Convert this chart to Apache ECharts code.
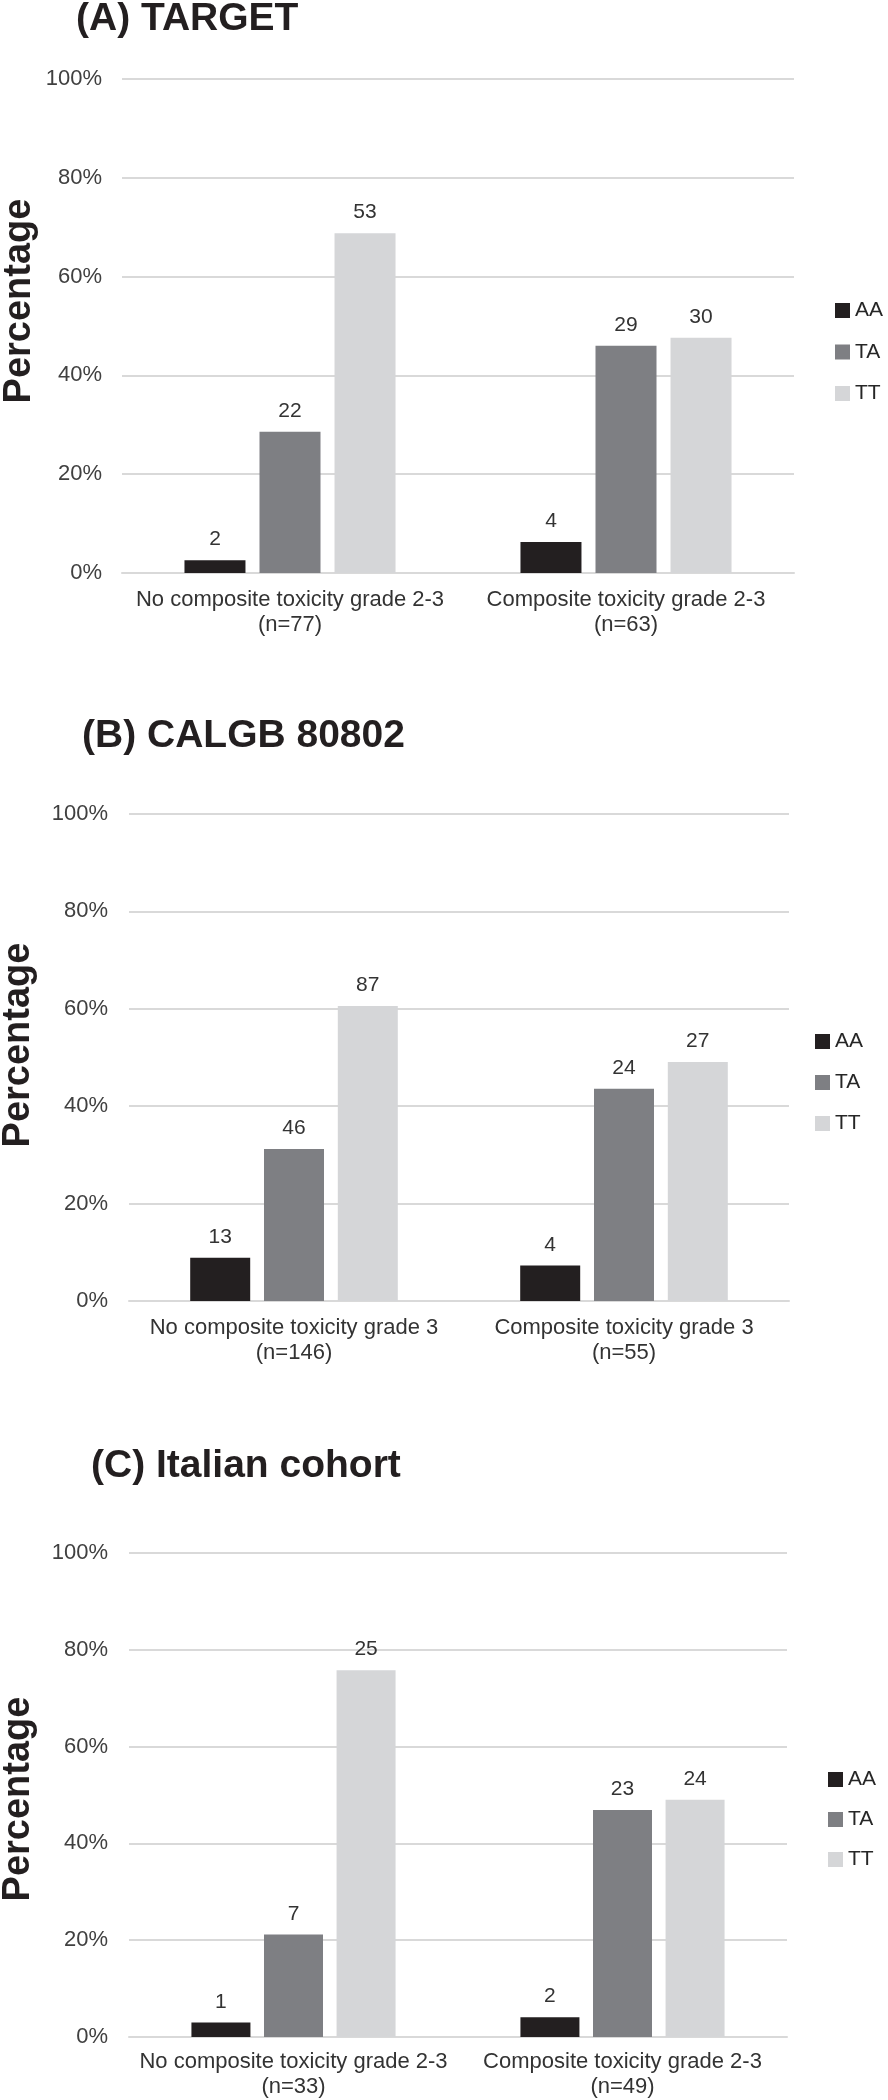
<!DOCTYPE html>
<html>
<head>
<meta charset="utf-8">
<script src="https://cdn.jsdelivr.net/npm/echarts@6/dist/echarts.min.js"></script>
<style>
  body { margin: 0; background: #fff; }
  #main { width: 888px; height: 2100px; }
</style>
</head>
<body>
<div id="main"></div>
<script>
// genotype groups (legend + series names)
var genotypes = ["AA", "TA", "TT"];
var colors = ["#231f20", "#7e7f83", "#d5d6d8"];

// (A) TARGET
var catsA = ["No composite toxicity grade 2-3\n(n=77)", "Composite toxicity grade 2-3\n(n=63)"];
var pctA = [[2.6, 6.3], [28.6, 46.0], [68.8, 47.6]]; // bar heights (%), AA / TA / TT
var cntA = [[2, 4], [22, 29], [53, 30]]; // counts shown on top of the bars

// (B) CALGB 80802
var catsB = ["No composite toxicity grade 3\n(n=146)", "Composite toxicity grade 3\n(n=55)"];
var pctB = [[8.9, 7.3], [31.2, 43.6], [60.6, 49.1]];
var cntB = [[13, 4], [46, 24], [87, 27]];

// (C) Italian cohort
var catsC = ["No composite toxicity grade 2-3\n(n=33)", "Composite toxicity grade 2-3\n(n=49)"];
var pctC = [[3.0, 4.1], [21.2, 46.9], [75.8, 49.0]];
var cntC = [[1, 2], [7, 23], [25, 24]];

var yTicks = [0, 20, 40, 60, 80, 100];

var FONT = "'Liberation Sans', Arial, sans-serif";

//layout of the three panels
var panels = [
  { title: "(A) TARGET", tl: 76, tt: 0, grid: { left: 122, top: 79, width: 672, height: 494 },
    bw: 61, lgL: 835, lgT: 300, lgGap: 20.5, nx: 20, ny: 301, xm: 14, ym: 20,
    cats: catsA, pct: pctA, cnt: cntA },
  { title: "(B) CALGB 80802", tl: 82, tt: 717, grid: { left: 129, top: 814, width: 660, height: 487 },
    bw: 60, lgL: 815, lgT: 1031, lgGap: 20, nx: 19, ny: 1045, xm: 14, ym: 21,
    cats: catsB, pct: pctB, cnt: cntB },
  { title: "(C) Italian cohort", tl: 91, tt: 1447, grid: { left: 129, top: 1553, width: 658, height: 484 },
    bw: 59, lgL: 828, lgT: 1769, lgGap: 19, nx: 19, ny: 1799, xm: 12, ym: 21,
    cats: catsC, pct: pctC, cnt: cntC },
];

var myChart = echarts.init(document.getElementById("main"));

var titles = [], grids = [], xAxes = [], yAxes = [], legends = [], series = [], graphics = [];

panels.forEach(function (p, i) {
  titles.push({
    text: p.title,
    left: p.tl,
    top: p.tt,
    padding: 0,
    textStyle: { fontFamily: FONT, fontSize: 39, fontWeight: "bold", color: "#231f20" },
  });
  grids.push(p.grid);
  xAxes.push({
    type: "category",
    gridIndex: i,
    data: p.cats,
    axisLine: { lineStyle: { color: "#d9d9d9", width: 2 } },
    axisTick: { show: false },
    axisLabel: { interval: 0, margin: p.xm, fontFamily: FONT, fontSize: 22, lineHeight: 25, color: "#333" },
  });
  yAxes.push({
    type: "value",
    gridIndex: i,
    min: yTicks[0],
    max: yTicks[yTicks.length - 1],
    interval: yTicks[1] - yTicks[0],
    axisLine: { show: false },
    axisTick: { show: false },
    axisLabel: { formatter: "{value}%", margin: p.ym, fontFamily: FONT, fontSize: 22, color: "#404040" },
    splitLine: { lineStyle: { color: "#d9d9d9", width: 2 } },
  });
  legends.push({
    data: genotypes,
    orient: "vertical",
    left: p.lgL,
    top: p.lgT,
    padding: 0,
    icon: "rect",
    itemWidth: 15,
    itemHeight: 15,
    itemGap: p.lgGap,
    selectedMode: false,
    textStyle: { fontFamily: FONT, fontSize: 21, color: "#262626" },
  });
  //y axis title drawn as rotated text
  graphics.push({
    type: "text",
    x: p.nx,
    y: p.ny,
    rotation: Math.PI / 2,
    style: {
      text: "Percentage",
      font: "bold 38px " + FONT,
      fill: "#231f20",
      align: "center",
      verticalAlign: "middle",
    },
  });
  genotypes.forEach(function (g, k) {
    series.push({
      type: "bar",
      name: g,
      xAxisIndex: i,
      yAxisIndex: i,
      data: p.pct[k],
      barWidth: p.bw,
      barGap: "23%",
      itemStyle: { color: colors[k] },
      label: {
        show: true,
        position: "top",
        distance: 10,
        fontFamily: FONT,
        fontSize: 21,
        color: "#333",
        formatter: function (prm) {
          return p.cnt[k][prm.dataIndex];
        },
      },
    });
  });
});

var option = {
  animation: false,
  backgroundColor: "#fff",
  title: titles,
  grid: grids,
  xAxis: xAxes,
  yAxis: yAxes,
  legend: legends,
  graphic: graphics,
  series: series,
};

myChart.setOption(option);
</script>
</body>
</html>
